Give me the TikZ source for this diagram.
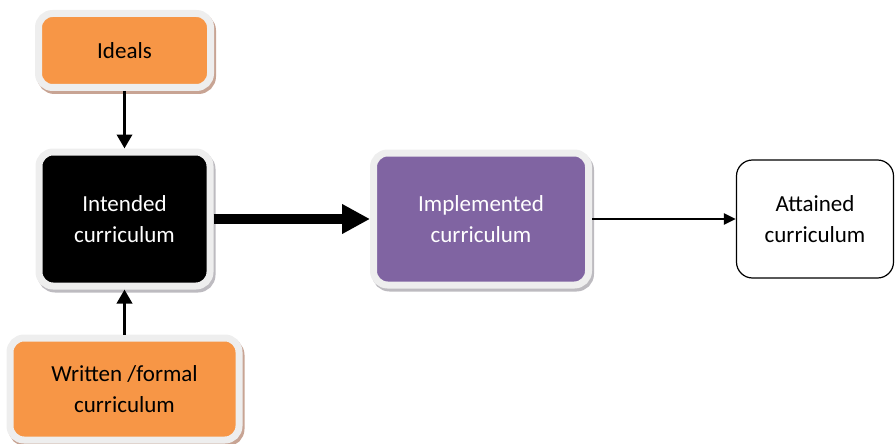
\documentclass[tikz,border=0pt]{standalone}
\usepackage{fontspec}
\setmainfont{Carlito}
\usetikzlibrary{arrows.meta}

\definecolor{orangebox}{HTML}{F79646}
\definecolor{purplebox}{HTML}{8064A2}
\definecolor{tanshadow}{HTML}{C8A494}
\definecolor{greyshadow}{HTML}{BDBBC0}
\definecolor{framegrey}{HTML}{EEEEEE}

\begin{document}
\begin{tikzpicture}[x=1pt,y=-1pt,
  box/.style={draw=framegrey, line width=7pt, rounded corners=14pt,
    align=center, font=\fontsize{23}{31}\selectfont,
    preaction={draw=#1, fill=#1, transform canvas={xshift=2pt,yshift=-3pt}}},
  flow/.style={line width=#1, -{Triangle[length=14pt,width=15pt]}}]

  \useasboundingbox (0,0) rectangle (895,444);

  \node[box=tanshadow, fill=orangebox, minimum width=172pt, minimum height=74pt]
    (ideals) at (124.5,50.5) {Ideals};
  \node[box=greyshadow, fill=black, text=white, minimum width=171pt, minimum height=134pt]
    (intended) at (124.5,219) {Intended\\curriculum};
  \node[box=tanshadow, fill=orangebox, minimum width=229pt, minimum height=102pt]
    (written) at (124.5,389) {Written /formal\\curriculum};
  \node[box=greyshadow, fill=purplebox, text=white, minimum width=215pt, minimum height=132pt]
    (implemented) at (481,219) {Implemented\\curriculum};
  \node[draw=black, line width=1.2pt, rounded corners=16pt, fill=white,
    align=center, font=\fontsize{23}{31}\selectfont,
    minimum width=157pt, minimum height=118pt]
    (attained) at (815,219) {Attained\\curriculum};

  \draw[flow=3.5pt] (ideals) -- (intended);
  \draw[flow=3.5pt] (written) -- (intended);
  \draw[line width=10pt, -{Triangle[length=28pt,width=28pt]}] (intended) -- (implemented);
  \draw[line width=2.5pt, -{Triangle[length=12pt,width=11pt]}] (implemented) -- (attained);

\end{tikzpicture}
\end{document}
